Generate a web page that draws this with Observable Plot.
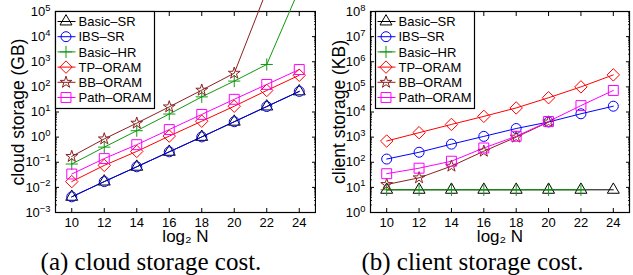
<!DOCTYPE html>
<html><head><meta charset="utf-8">
<script src="https://cdn.jsdelivr.net/npm/d3@7"></script>
<script src="https://cdn.jsdelivr.net/npm/@observablehq/plot@0.6"></script>
<style>
body{margin:0;background:#fff;}
#wrap{display:flex;width:633px;height:275px;overflow:hidden;}
.panel{position:relative;overflow:hidden;}
.panel svg{display:block;overflow:hidden;}
.cap{font-family:"Liberation Serif","Times New Roman",serif;font-size:25px;text-align:center;line-height:27px;height:27px;white-space:nowrap;}
</style></head><body>
<div id="wrap"><div class="panel" id="pa" style="width:316px"></div><div class="panel" id="pb" style="width:317px"></div></div>
<script>
// ---- data ----
const logN = [10, 12, 14, 16, 18, 20, 22, 24];
const seriesNames = ["Basic–SR", "IBS–SR", "Basic–HR", "TP–ORAM", "BB–ORAM", "Path–ORAM"];
const seriesColors = ["#000000", "#0000ff", "#119911", "#ff0000", "#8b2020", "#ff00ff"];
const seriesSymbols = ["triangle2", "circle", "plus", "diamond2", "star", "square"];

// (a) cloud storage (GB)
const cloudBasicSR   = [0.0042, 0.017, 0.066, 0.26, 1.02, 4.1, 16.5, 66];
const cloudIBSSR     = [0.0042, 0.017, 0.066, 0.26, 1.02, 4.1, 16.5, 66];
const cloudBasicHR   = [0.085, 0.4, 1.8, 8.3, 40, 170, 780, 780000];
const cloudTPORAM    = [0.017, 0.075, 0.27, 1.1, 4.3, 17, 72, 290];
const cloudBBORAM    = [0.17, 0.85, 3.6, 16, 74, 350, 700000];          // 10..22
const cloudPathORAM  = [0.034, 0.14, 0.5, 2, 8, 32, 125, 490];
const cloudTicks = [1e-3, 1e-2, 1e-1, 1e0, 1e1, 1e2, 1e3, 1e4, 1e5];

// (b) client storage (KB)
const clientBasicSR  = [8, 8, 8, 8, 8, 8, 8, 8];
const clientIBSSR    = [134, 250, 525, 1070, 2200, 4000, 8500, 17000];
const clientBasicHR  = [8, 8, 8, 8, 8, 8, 8];                            // 10..22
const clientTPORAM   = [700, 1500, 3200, 6700, 14500, 37000, 100000, 300000];
const clientBBORAM   = [13, 24, 70, 275, 1000, 4000];                    // 10..20
const clientPathORAM = [35, 58, 110, 370, 1080, 4200, 18000, 72000];
const clientTicks = [1e0, 1e1, 1e2, 1e3, 1e4, 1e5, 1e6, 1e7, 1e8];

// ---- helpers ----
const symbolR = {triangle2: 5.7, circle: 5, plus: 4, diamond2: 5.6, star: 3.7, square: 5.6};
const d3Sym = {triangle2: d3.symbolTriangle2, circle: d3.symbolCircle, plus: d3.symbolPlus,
               diamond2: d3.symbolDiamond2, star: d3.symbolStar, square: d3.symbolSquare};

function table(seriesValues) {
  const rows = [];
  seriesValues.forEach((vals, i) => vals.forEach((v, j) => rows.push({series: seriesNames[i], x: logN[j], y: v})));
  return rows;
}
function minorTicks(majors) {
  const out = [];
  for (let i = 0; i < majors.length - 1; i++) for (let k = 2; k <= 9; k++) out.push(majors[i] * k);
  return out;
}

function panel(el, data, o) {
  const empty = () => "";
  const minors = minorTicks(o.ticks);
  const marks = [
    Plot.frame({stroke: "black", strokeWidth: 1.2}),
    Plot.axisX(logN, {anchor: "bottom", tickSize: 0, tickPadding: 5, fontSize: 13, tickFormat: d => String(d)}),
    Plot.axisX(logN, {anchor: "bottom", tickSize: -4, tickFormat: empty}),
    Plot.axisX(logN, {anchor: "top", tickSize: -4, tickFormat: empty}),
    Plot.axisY(o.ticks, {anchor: "left", tickSize: 0, tickPadding: 5, fontSize: 13,
      tickFormat: d => "10^" + Math.round(Math.log10(d))}),
    Plot.axisY(o.ticks, {anchor: "left", tickSize: -4, tickFormat: empty}),
    Plot.axisY(o.ticks, {anchor: "right", tickSize: -4, tickFormat: empty}),
    Plot.axisY(minors, {anchor: "left", tickSize: -2, tickFormat: empty, strokeOpacity: 0.8}),
    Plot.axisY(minors, {anchor: "right", tickSize: -2, tickFormat: empty, strokeOpacity: 0.8}),
    Plot.text([o.ylabel], {frameAnchor: "left", rotate: -90, dx: o.ylabelDx, fontSize: 17.5,
      textAnchor: "middle", lineAnchor: "middle", text: d => d}),
    Plot.text(["log₂ N"], {frameAnchor: "bottom", dy: 24, fontSize: 17,
      textAnchor: "middle", lineAnchor: "middle", text: d => d}),
    Plot.line(data, {x: "x", y: "y", z: "series", stroke: "series", strokeWidth: 1})
  ];
  seriesNames.forEach((s, i) => {
    marks.push(Plot.dot(data.filter(d => d.series === s), {
      x: "x", y: "y", symbol: () => seriesSymbols[i], stroke: seriesColors[i], fill: "none",
      r: symbolR[seriesSymbols[i]], strokeWidth: 1
    }));
  });
  const chart = Plot.plot({
    width: o.width, height: 248,
    marginLeft: o.ml, marginRight: o.mr, marginTop: 11, marginBottom: 36,
    style: {fontFamily: "'Liberation Sans', Arial, sans-serif", background: "white", overflow: "hidden", color: "black"},
    x: {type: "linear", domain: [9, 25], label: null},
    y: {type: "log", domain: [o.ticks[0], o.ticks[o.ticks.length - 1]], label: null},
    color: {domain: seriesNames, range: seriesColors},
    symbol: {domain: seriesSymbols, range: seriesSymbols.map(s => d3Sym[s])},
    marks
  });
  // superscript exponents on y tick labels
  d3.select(chart).selectAll("text").each(function () {
    const t = this.textContent;
    if (/^10\^-?\d+$/.test(t)) {
      const exp = t.split("^")[1];
      const sel = d3.select(this);
      sel.text(null);
      sel.append("tspan").text("10");
      sel.append("tspan").attr("dy", "-0.55em").attr("font-size", "0.72em").text(exp.replace("-", "−"));
    }
  });
  // legend box
  const svg = d3.select(chart);
  const g = svg.append("g").attr("text-anchor", "start")
    .attr("font-family", "'Liberation Sans', Arial, sans-serif");
  const lx = o.legendX, ly = 11.5;
  g.append("rect").attr("x", lx).attr("y", ly).attr("width", 99).attr("height", 97)
    .attr("fill", "white").attr("stroke", "black").attr("stroke-width", 1.2);
  seriesNames.forEach((s, i) => {
    const cy = ly + 10 + i * 15.2;
    g.append("line").attr("x1", lx + 2).attr("x2", lx + 20).attr("y1", cy).attr("y2", cy)
      .attr("stroke", seriesColors[i]).attr("stroke-width", 1);
    const sym = seriesSymbols[i], r = symbolR[sym];
    g.append("path").attr("d", d3.symbol(d3Sym[sym], Math.PI * r * r)())
      .attr("transform", `translate(${lx + 10.5},${cy})`)
      .attr("fill", "none").attr("stroke", seriesColors[i]).attr("stroke-width", 1);
    g.append("text").attr("x", lx + 23).attr("y", cy).attr("dy", "0.36em")
      .attr("text-anchor", "start").attr("font-size", 13).attr("fill", "black").text(s);
  });
  el.appendChild(chart);
  const cap = document.createElement("div");
  cap.className = "cap";
  cap.textContent = o.caption;
  if (o.capShift) cap.style.paddingRight = o.capShift + "px";
  el.appendChild(cap);
}

panel(document.getElementById("pa"),
  table([cloudBasicSR, cloudIBSSR, cloudBasicHR, cloudTPORAM, cloudBBORAM, cloudPathORAM]),
  {width: 316, ml: 55, mr: 1, ticks: cloudTicks, ylabel: "cloud storage (GB)", ylabelDx: -37,
   legendX: 55.5, caption: "(a) cloud storage cost.", capShift: 14});
panel(document.getElementById("pb"),
  table([clientBasicSR, clientIBSSR, clientBasicHR, clientTPORAM, clientBBORAM, clientPathORAM]),
  {width: 317, ml: 54, mr: 4, ticks: clientTicks, ylabel: "client storage (KB)", ylabelDx: -31,
   legendX: 59.5, caption: "(b) client storage cost.", capShift: 4});
</script>
</body></html>
